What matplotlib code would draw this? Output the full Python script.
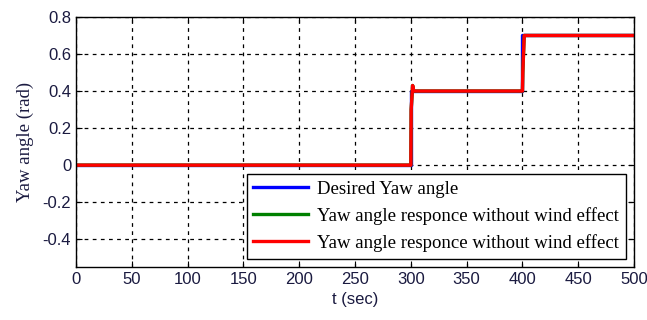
import matplotlib.pyplot as plt
import numpy as np

# desired yaw angle (reference steps)
t_des = [0, 300, 300, 400, 400, 500]
yaw_des = [0, 0, 0.4, 0.4, 0.7, 0.7]

# yaw angle response (no wind)
t_resp = [0, 300, 300.3, 301.6, 302.6, 400, 400.3, 401.6, 402.6, 500]
yaw_resp = [0, 0, 0.30, 0.43, 0.40, 0.40, 0.50, 0.70, 0.70, 0.70]

fig = plt.figure(figsize=(6.47, 3.2), dpi=100)
ax = fig.add_axes([0.1175, 0.1656, 0.8625, 0.7814])

ax.plot(t_des, yaw_des, color='#0000ff', lw=2.4, label='Desired Yaw angle')
ax.plot(t_resp, yaw_resp, color='#008000', lw=2.4,
        label='Yaw angle responce without wind effect')
ax.plot(t_resp, yaw_resp, color='#ff0000', lw=2.4,
        label='Yaw angle responce without wind effect')

ax.set_xlim(0, 500)
ax.set_ylim(-0.55, 0.8)
ax.set_xticks(np.arange(0, 501, 50))
ax.set_yticks([-0.4, -0.2, 0, 0.2, 0.4, 0.6, 0.8])
ax.set_yticklabels(['-0.4', '-0.2', '0', '0.2', '0.4', '0.6', '0.8'])
ax.grid(True, color='black', linestyle=(0, (3, 3.5)), linewidth=0.9)
ax.tick_params(direction='in', top=True, right=True, length=4,
               labelsize=12, colors='black')
for lbl in ax.get_xticklabels() + ax.get_yticklabels():
    lbl.set_family('Liberation Sans')
    lbl.set_color('#1a1a40')
for s in ax.spines.values():
    s.set_linewidth(1.0)

ax.set_xlabel('t (sec)', family='Liberation Sans', fontsize=12, color='#1a1a40')
ax.set_ylabel('Yaw angle (rad)', family='Liberation Serif', fontsize=13.5,
              color='#1a1a40', labelpad=6)

leg = ax.legend(loc='lower right', prop={'family': 'Liberation Serif', 'size': 13.5},
                fancybox=False, edgecolor='black', framealpha=1,
                handlelength=2.9, handletextpad=0.5, borderaxespad=0.45,
                labelspacing=0.5, borderpad=0.35)
leg.get_frame().set_linewidth(1.0)

fig.savefig('out.png', dpi=100)
